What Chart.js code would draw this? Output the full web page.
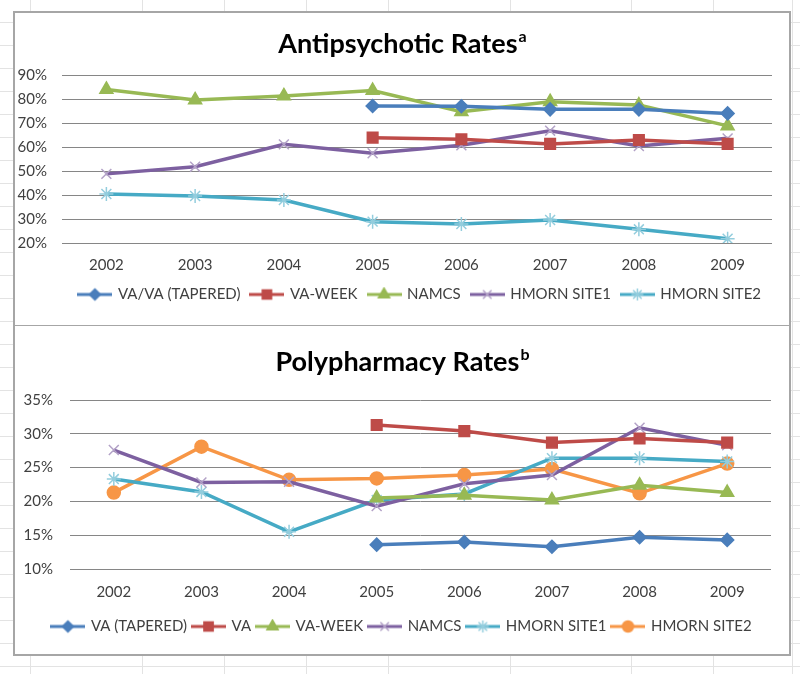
<!DOCTYPE html>
<html>
<head>
<meta charset="utf-8">
<script src="https://cdn.jsdelivr.net/npm/chart.js@4.4.1/dist/chart.umd.min.js"></script>
<style>
  html, body { margin: 0; padding: 0; }
  body {
    width: 800px; height: 674px; position: relative; overflow: hidden; background-color: #fff;
    background-image: repeating-linear-gradient(to bottom, transparent 0, transparent 22px, #e3e3e3 22px, #e3e3e3 23px);
  }
  .col { position: absolute; top: 0; width: 1px; height: 674px; background: #e3e3e3; }
  #frame { position: absolute; left: 13px; top: 11px; width: 774px; height: 641px; border: 2px solid #a6a6a6; background: #fff; }
  #divider { position: absolute; left: 15px; top: 325px; width: 774px; height: 1px; background: #a6a6a6; }
  #apChart { position: absolute; left: 15px; top: 13px; }
  #ppChart { position: absolute; left: 15px; top: 326px; }
</style>
</head>
<body>
<div id="frame"></div>
<div id="divider"></div>
<canvas id="apChart" width="774" height="311"></canvas>
<canvas id="ppChart" width="774" height="328"></canvas>
<script>
const years = ['2002', '2003', '2004', '2005', '2006', '2007', '2008', '2009'];

// Antipsychotic rates (%)
const apVaTapered = [null, null, null, 77.1, 77.0, 75.7, 75.7, 74.0];
const apVaWeek    = [null, null, null, 63.9, 63.2, 61.3, 62.9, 61.3];
const apNamcs     = [84.0, 79.6, 81.3, 83.5, 74.7, 78.9, 77.5, 68.8];
const apSite1     = [48.8, 51.8, 61.1, 57.4, 60.7, 66.8, 60.4, 63.6];
const apSite2     = [40.4, 39.6, 37.9, 28.9, 27.9, 29.6, 25.7, 21.8];
const apTicks     = [20, 30, 40, 50, 60, 70, 80, 90];

// Polypharmacy rates (%)
const ppVaTapered = [null, null, null, 13.6, 14.0, 13.3, 14.7, 14.3];
const ppVa        = [null, null, null, 31.3, 30.4, 28.7, 29.3, 28.7];
const ppVaWeek    = [null, null, null, 20.5, 20.9, 20.2, 22.4, 21.3];
const ppNamcs     = [27.6, 22.8, 22.9, 19.3, 22.6, 23.9, 30.9, 28.3];
const ppSite1     = [23.3, 21.4, 15.5, 20.2, 21.1, 26.4, 26.4, 25.9];
const ppSite2     = [21.3, 28.1, 23.2, 23.4, 23.9, 24.8, 21.2, 25.6];
const ppTicks     = [10, 15, 20, 25, 30, 35];

// spreadsheet column edges behind the chart
[30, 142, 224, 306, 388, 510, 631, 713, 792].forEach(x => {
  const d = document.createElement('div');
  d.className = 'col';
  d.style.left = x + 'px';
  document.body.insertBefore(d, document.body.firstChild);
});

const FONT = 'Lato, "Open Sans", sans-serif';

// marker look per series kind
const styles = {
  blue:   { line: '#4a7ebb', fill: '#4a7ebb', stroke: '#4a7ebb', point: 'rectRot',  r: 6.5 },
  red:    { line: '#be4b48', fill: '#be4b48', stroke: '#be4b48', point: 'rect',     r: 7.5 },
  green:  { line: '#98b954', fill: '#98b954', stroke: '#98b954', point: 'triangle', r: 7.5 },
  purple: { line: '#7d60a0', fill: '#7d60a0', stroke: '#b3a2c7', point: 'crossRot', r: 7 },
  cyan:   { line: '#46aac5', fill: '#46aac5', stroke: '#93cddd', point: 'star',     r: 7 },
  orange: { line: '#f79646', fill: '#f79646', stroke: '#f79646', point: 'circle',   r: 6.5 }
};

function makeDataset(label, data, s) {
  return {
    label: label,
    data: data,
    borderColor: s.line,
    borderWidth: 3.5,
    backgroundColor: s.fill,
    pointStyle: s.point,
    pointRadius: s.r,
    pointBackgroundColor: s.fill,
    pointBorderColor: s.stroke,
    pointBorderWidth: 1.5,
    tension: 0,
    spanGaps: false
  };
}

// legend icon: line with marker in the middle
function legendIcon(s) {
  const c = document.createElement('canvas');
  c.width = 35; c.height = 16;
  const ctx = c.getContext('2d');
  ctx.strokeStyle = s.line;
  ctx.lineWidth = 3;
  ctx.beginPath();
  ctx.moveTo(0, 8);
  ctx.lineTo(35, 8);
  ctx.stroke();
  ctx.fillStyle = s.fill;
  ctx.strokeStyle = s.stroke;
  ctx.lineWidth = 1.5;
  if (Chart.helpers && Chart.helpers.drawPoint) {
    Chart.helpers.drawPoint(ctx, { pointStyle: s.point, radius: s.r - 1, rotation: 0, borderWidth: 1.5 }, 17.5, 8);
  }
  return c;
}

// bold title with a superscript letter
const supTitle = {
  id: 'supTitle',
  afterDraw(chart, args, opts) {
    const ctx = chart.ctx;
    ctx.save();
    ctx.fillStyle = '#000';
    ctx.textBaseline = 'middle';
    ctx.font = 'bold 27px ' + FONT;
    const w = ctx.measureText(opts.text).width;
    ctx.font = 'bold 16px ' + FONT;
    const ws = ctx.measureText(opts.sup).width;
    const x0 = chart.width / 2 - (w + ws) / 2;
    ctx.font = 'bold 27px ' + FONT;
    ctx.fillText(opts.text, x0, opts.y);
    ctx.font = 'bold 16px ' + FONT;
    ctx.fillText(opts.sup, x0 + w + 1, opts.y - 7);
    ctx.restore();
  }
};

function buildChart(id, datasets, kinds, ticks, opt) {
  const icons = kinds.map(k => legendIcon(styles[k]));
  const scales = {
    x: {
      offset: true,
      grid: { display: false, drawTicks: false },
      border: { display: false },
      afterFit: s => { s.height = opt.xHeight; },
      ticks: { color: '#404040', padding: opt.xPad, font: { family: FONT, size: 15 } }
    },
    y: {
      min: ticks[0],
      max: ticks[ticks.length - 1],
      afterBuildTicks: s => { s.ticks = ticks.map(v => ({ value: v })); },
      afterFit: s => { s.width = opt.yWidth; },
      grid: { color: '#868686', lineWidth: 1, drawTicks: false },
      border: { display: false },
      ticks: {
        color: '#404040',
        padding: opt.yPad,
        font: { family: FONT, size: 15 },
        callback: v => v + '%'
      }
    }
  };
  if (opt.spacer) {
    // empty right-hand axis, only keeps the plot clear of the frame
    scales.spacer = {
      position: 'right',
      grid: { display: false, drawTicks: false },
      border: { display: false },
      ticks: { display: false },
      afterFit: s => { s.width = opt.spacer; }
    };
  }
  return new Chart(document.getElementById(id), {
    type: 'line',
    data: { labels: years, datasets: datasets },
    plugins: [supTitle],
    options: {
      responsive: false,
      animation: false,
      layout: { padding: { top: opt.top, right: opt.right, bottom: opt.bottom, left: 0 } },
      plugins: {
        supTitle: { text: opt.title, sup: opt.sup, y: opt.titleY },
        tooltip: { enabled: false },
        legend: {
          position: 'bottom',
          align: opt.legendAlign,
          labels: {
            usePointStyle: true,
            pointStyleWidth: 31,
            padding: opt.legendPad,
            color: '#404040',
            font: { family: FONT, size: 15 },
            generateLabels(chart) {
              const items = Chart.defaults.plugins.legend.labels.generateLabels(chart);
              items.forEach((it, i) => { it.pointStyle = icons[i]; });
              return items;
            }
          }
        }
      },
      scales: scales
    }
  });
}

buildChart('apChart', [
  makeDataset('VA/VA (TAPERED)', apVaTapered, styles.blue),
  makeDataset('VA-WEEK', apVaWeek, styles.red),
  makeDataset('NAMCS', apNamcs, styles.green),
  makeDataset('HMORN SITE1', apSite1, styles.purple),
  makeDataset('HMORN SITE2', apSite2, styles.cyan)
], ['blue', 'red', 'green', 'purple', 'cyan'], apTicks, {
  title: 'Antipsychotic Rates', sup: 'a', titleY: 31,
  top: 62, right: 17, bottom: 12, legendPad: 11, legendAlign: 'end',
  xHeight: 33, xPad: 13, yWidth: 47, yPad: 15
});

buildChart('ppChart', [
  makeDataset('VA (TAPERED)', ppVaTapered, styles.blue),
  makeDataset('VA', ppVa, styles.red),
  makeDataset('VA-WEEK', ppVaWeek, styles.green),
  makeDataset('NAMCS', ppNamcs, styles.purple),
  makeDataset('HMORN SITE1', ppSite1, styles.cyan),
  makeDataset('HMORN SITE2', ppSite2, styles.orange)
], ['blue', 'red', 'green', 'purple', 'cyan', 'orange'], ppTicks, {
  title: 'Polypharmacy Rates', sup: 'b', titleY: 36,
  top: 74, right: 0, spacer: 18, bottom: 10, legendPad: 6, legendAlign: 'center',
  xHeight: 44, xPad: 14, yWidth: 55, yPad: 17
});
</script>
</body>
</html>
